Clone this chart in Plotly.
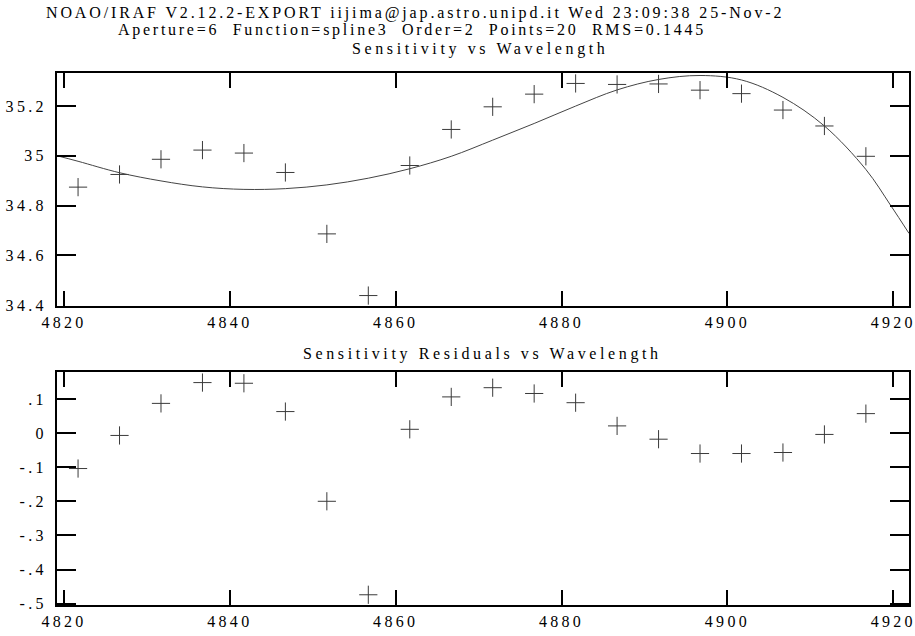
import plotly.graph_objects as go

# ---- data ----
wavelength = [4821.7, 4826.7, 4831.7, 4836.7, 4841.7, 4846.7, 4851.7, 4856.7, 4861.7, 4866.7,
              4871.7, 4876.7, 4881.7, 4886.7, 4891.7, 4896.7, 4901.7, 4906.7, 4911.7, 4916.7]
sensitivity = [34.874, 34.925, 34.986, 35.023, 35.011, 34.933, 34.686, 34.438, 34.961, 35.106,
               35.197, 35.248, 35.291, 35.287, 35.289, 35.264, 35.250, 35.184, 35.120, 34.998]
residuals = [-0.104, -0.007, 0.087, 0.148, 0.146, 0.063, -0.200, -0.474, 0.011, 0.106,
             0.133, 0.116, 0.089, 0.021, -0.018, -0.060, -0.060, -0.057, -0.004, 0.057]

fit_x = [4819.2, 4821.7, 4826.7, 4831.7, 4836.7, 4841.7, 4846.7, 4851.7, 4856.7, 4861.7,
         4866.7, 4871.7, 4876.7, 4881.7, 4886.7, 4891.7, 4896.7, 4901.7, 4906.7, 4911.7,
         4916.7, 4919.7, 4921.9]
fit_y = [35.000, 34.978, 34.932, 34.899, 34.875, 34.865, 34.868, 34.883, 34.910, 34.948,
         34.998, 35.063, 35.130, 35.200, 35.265, 35.307, 35.323, 35.305, 35.235, 35.120,
         34.945, 34.800, 34.688]

x_ticks = [4820, 4840, 4860, 4880, 4900, 4920]
x_ticklabels = ["4820", "4840", "4860", "4880", "4900", "4920"]
top_y_ticks = [34.4, 34.6, 34.8, 35.0, 35.2]
top_y_ticklabels = ["34.4", "34.6", "34.8", "35", "35.2"]
bot_y_ticks = [-0.5, -0.4, -0.3, -0.2, -0.1, 0.0, 0.1]
bot_y_ticklabels = ["-.5", "-.4", "-.3", "-.2", "-.1", "0", ".1"]

title_lines = [
    "NOAO/IRAF V2.12.2-EXPORT iijima@jap.astro.unipd.it Wed 23:09:38 25-Nov-2",
    "Aperture=6  Function=spline3  Order=2  Points=20  RMS=0.1445",
    "Sensitivity vs Wavelength",
]
residual_title = "Sensitivity Residuals vs Wavelength"

# ---- styling ----
W, H = 915, 636
ML, MR, MT, MB = 57, 6, 73, 31
PH = H - MT - MB
FONT = "'Liberation Serif', 'DejaVu Serif', 'Times New Roman', serif"
FSIZE = 16


def sp(t, s="3.3px"):
    t = t.replace("  ", "\u00a0\u00a0")
    return f'<span style="letter-spacing:{s}">{t}</span>'


fig = go.Figure()

marker = dict(symbol="cross-thin", size=13, line=dict(width=1, color="#3a3a3a"), color="#3a3a3a")

fig.add_trace(go.Scatter(x=wavelength, y=sensitivity, mode="markers", marker=marker,
                         xaxis="x", yaxis="y", showlegend=False))
fig.add_trace(go.Scatter(x=fit_x, y=fit_y, mode="lines", line=dict(color="#444444", width=1, shape="spline"),
                         xaxis="x", yaxis="y", showlegend=False))
fig.add_trace(go.Scatter(x=wavelength, y=residuals, mode="markers", marker=marker,
                         xaxis="x2", yaxis="y2", showlegend=False))

top_dom = [1 - (306 - MT) / PH, 1.0]
bot_dom = [0.0, 1 - (372 - MT) / PH]

common_x = dict(range=[4819.16, 4921.9], tickvals=x_ticks, ticktext=[sp(t) for t in x_ticklabels],
                ticks="inside", ticklen=15, tickwidth=2, tickcolor="black",
                showline=True, linewidth=2, linecolor="black", mirror="allticks",
                showgrid=False, zeroline=False, domain=[0, 1], ticklabelstandoff=1,
                ticklabeloverflow="allow", automargin=False,
                tickfont=dict(family=FONT, size=FSIZE, color="black"))
common_y = dict(ticks="inside", ticklen=19, tickwidth=2, tickcolor="black",
                showline=True, linewidth=2, linecolor="black", mirror="allticks",
                showgrid=False, zeroline=False, ticklabelstandoff=5, automargin=False,
                ticklabeloverflow="allow",
                tickfont=dict(family=FONT, size=FSIZE, color="black"))

fig.update_layout(
    width=W, height=H,
    margin=dict(l=ML, r=MR, t=MT, b=MB, autoexpand=False),
    paper_bgcolor="white", plot_bgcolor="white",
    xaxis=dict(anchor="y", **common_x),
    yaxis=dict(anchor="x", domain=top_dom, range=[34.396, 35.333], tickvals=top_y_ticks,
               ticktext=[sp(t) for t in top_y_ticklabels], **common_y),
    xaxis2=dict(anchor="y2", **common_x),
    yaxis2=dict(anchor="x2", domain=bot_dom, range=[-0.504, 0.179], tickvals=bot_y_ticks,
                ticktext=[sp(t) for t in bot_y_ticklabels], **common_y),
)


def px_to_paper(px, py):
    return (px - ML) / (W - ML - MR), 1 - (py - MT) / PH


title_pos = [(415, 13), (412, 30), (480, 49)]
title_sp = ["2.86px", "2.73px", "3.6px"]
for (px, py), t, s in zip(title_pos, title_lines, title_sp):
    x, y = px_to_paper(px, py)
    fig.add_annotation(x=x, y=y, xref="paper", yref="paper", text=sp(t, s),
                       showarrow=False, xanchor="center", yanchor="middle",
                       font=dict(family=FONT, size=FSIZE, color="black"))
x, y = px_to_paper(482, 354)
fig.add_annotation(x=x, y=y, xref="paper", yref="paper", text=sp(residual_title, "3.6px"),
                   showarrow=False, xanchor="center", yanchor="middle",
                   font=dict(family=FONT, size=FSIZE, color="black"))

fig.write_html("out.html", config={"displayModeBar": False},
               post_script="document.body.style.margin='0';document.body.style.overflow='hidden';")
